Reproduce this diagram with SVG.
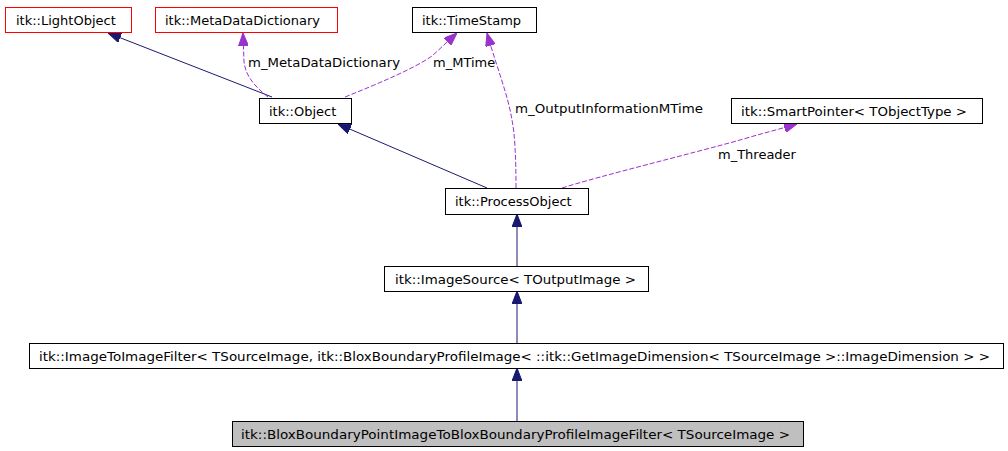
<svg xmlns="http://www.w3.org/2000/svg" width="1008" height="451" viewBox="0 0 1008 451">
<style>
.box{fill:#ffffff;stroke:#000000;stroke-width:1}
.red{fill:#ffffff;stroke:#ff0000;stroke-width:1}
.gray{fill:#bfbfbf;stroke:#000000;stroke-width:1}
text{font-family:"DejaVu Sans","Liberation Sans",sans-serif;font-size:13px;fill:#000000}
.inh{fill:none;stroke:#191970;stroke-width:1;marker-end:url(#ah)}
.use{fill:none;stroke:#9a32cd;stroke-width:1;stroke-dasharray:5,2;marker-end:url(#au)}
</style>
<defs>
<marker id="ah" viewBox="0 0 13 10" refX="13" refY="5" markerWidth="13" markerHeight="10" markerUnits="userSpaceOnUse" orient="auto">
<path d="M0,0 L13,5 L0,10 Z" fill="#191970" stroke="#191970" stroke-width="1"/>
</marker>
<marker id="au" viewBox="0 0 13 10" refX="13" refY="5" markerWidth="13" markerHeight="10" markerUnits="userSpaceOnUse" orient="auto">
<path d="M0,0 L13,5 L0,10 Z" fill="#9a32cd" stroke="#9a32cd" stroke-width="1"/>
</marker>
</defs>
<rect width="1008" height="451" fill="#ffffff"/>
<g id="connectors">
<path class="inh" d="M272,97 L108,33"/>
<path class="use" d="M268,97 C257,88 246,78 244,62 L243,33"/>
<path class="use" d="M345,97 C380,83 415,68 432,56 L457,33"/>
<path class="use" d="M516,188 C516,160 515,135 512,120 C508,95 496,65 487,33"/>
<path class="use" d="M562,188 C600,176 690,154 740,140 C760,134 780,129 797,124"/>
<path class="inh" d="M487,188 L338,124"/>
<path class="inh" d="M517,266 L517,214"/>
<path class="inh" d="M517,343 L517,291"/>
<path class="inh" d="M517,421 L517,368"/>
<text x="248" y="67" textLength="152" lengthAdjust="spacingAndGlyphs">m_MetaDataDictionary</text>
<text x="433" y="67">m_MTime</text>
<text x="515" y="113" textLength="188" lengthAdjust="spacingAndGlyphs">m_OutputInformationMTime</text>
<text x="718" y="159">m_Threader</text>
</g>
<g id="node-lightobject">
<rect class="red" x="5.5" y="7.5" width="126" height="25"/>
<text x="16" y="25">itk::LightObject</text>
</g>
<g id="node-metadatadictionary">
<rect class="red" x="155.5" y="7.5" width="182" height="25"/>
<text x="165" y="25">itk::MetaDataDictionary</text>
</g>
<g id="node-timestamp">
<rect class="box" x="412.5" y="7.5" width="124" height="25"/>
<text x="422" y="25">itk::TimeStamp</text>
</g>
<g id="node-object">
<rect class="box" x="259.5" y="98.5" width="92" height="25"/>
<text x="269" y="116">itk::Object</text>
</g>
<g id="node-smartpointer">
<rect class="box" x="731.5" y="98.5" width="251" height="25"/>
<text x="741" y="116" textLength="226" lengthAdjust="spacingAndGlyphs">itk::SmartPointer&lt; TObjectType &gt;</text>
</g>
<g id="node-processobject">
<rect class="box" x="445.5" y="188.5" width="143" height="26"/>
<text x="455" y="206">itk::ProcessObject</text>
</g>
<g id="node-imagesource">
<rect class="box" x="384.5" y="266.5" width="264" height="25"/>
<text x="395" y="284" textLength="241" lengthAdjust="spacingAndGlyphs">itk::ImageSource&lt; TOutputImage &gt;</text>
</g>
<g id="node-imagetoimagefilter">
<rect class="box" x="29.5" y="343.5" width="974" height="25"/>
<text x="39" y="361" textLength="951" lengthAdjust="spacingAndGlyphs">itk::ImageToImageFilter&lt; TSourceImage, itk::BloxBoundaryProfileImage&lt; ::itk::GetImageDimension&lt; TSourceImage &gt;::ImageDimension &gt; &gt;</text>
</g>
<g id="node-bloxfilter">
<rect class="gray" x="232.5" y="421.5" width="571" height="25"/>
<text x="241" y="439" textLength="549" lengthAdjust="spacingAndGlyphs">itk::BloxBoundaryPointImageToBloxBoundaryProfileImageFilter&lt; TSourceImage &gt;</text>
</g>
</svg>
